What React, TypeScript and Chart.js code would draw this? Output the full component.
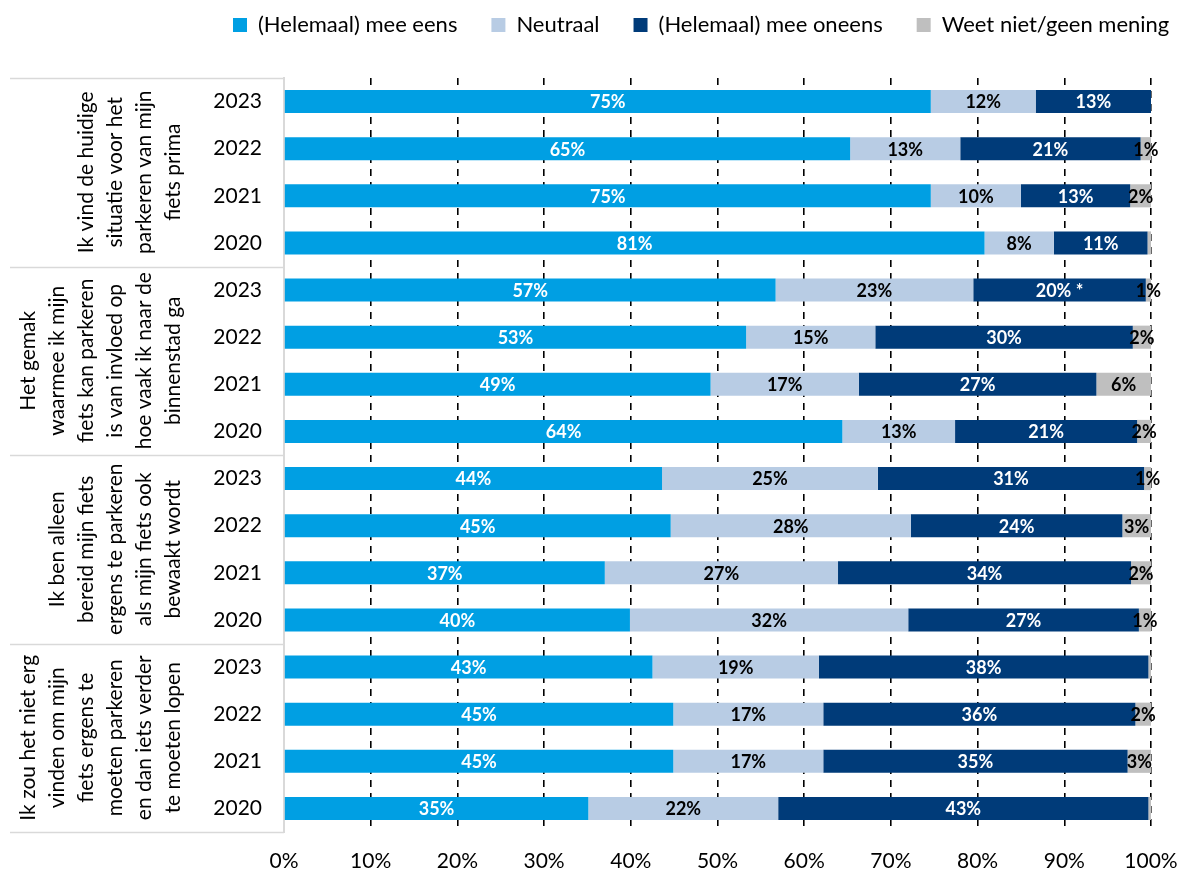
import React, { useEffect, useRef } from "react";
import { Chart, registerables } from "chart.js";

Chart.register(...registerables);

const years = [
  "2023", "2022", "2021", "2020",
  "2023", "2022", "2021", "2020",
  "2023", "2022", "2021", "2020",
  "2023", "2022", "2021", "2020",
];

const groupLabels = [
  ["Ik vind de huidige", "situatie voor het", "parkeren van mijn", "fiets prima"],
  ["Het gemak", "waarmee ik mijn", "fiets kan parkeren", "is van invloed op", "hoe vaak ik naar de", "binnenstad ga"],
  ["Ik ben alleen", "bereid mijn fiets", "ergens te parkeren", "als mijn fiets ook", "bewaakt wordt"],
  ["Ik zou het niet erg", "vinden om mijn", "fiets ergens te", "moeten parkeren", "en dan iets verder", "te moeten lopen"],
];

const seriesNames = ["(Helemaal) mee eens", "Neutraal", "(Helemaal) mee oneens", "Weet niet/geen mening"];

const meeEens = [74.6, 65.3, 74.6, 80.8, 56.7, 53.3, 49.2, 64.4, 43.6, 44.6, 37.0, 39.9, 42.5, 44.9, 44.9, 35.1];
const neutraal = [12.1, 12.7, 10.4, 8.0, 22.8, 14.9, 17.1, 13.0, 24.9, 27.7, 26.9, 32.1, 19.2, 17.3, 17.3, 21.9];
const meeOneens = [13.3, 20.8, 12.6, 10.8, 19.9, 29.7, 27.4, 21.0, 30.7, 24.4, 33.8, 26.6, 38.0, 36.0, 35.1, 42.7];
const weetNiet = [0.0, 1.2, 2.4, 0.4, 0.6, 2.1, 6.3, 1.6, 0.8, 3.3, 2.3, 1.4, 0.3, 1.8, 2.7, 0.3];
const oneensNote = ["", "", "", "", " *", "", "", "", "", "", "", "", "", "", "", ""];

const seriesColors = ["#009FE3", "#B8CCE4", "#003B79", "#BFBFBF"];
const labelColors = ["#FFFFFF", "#000000", "#FFFFFF", "#000000"];

const FONT = "Lato";

const legendPlacer = {
  id: "legendPlacer",
  afterLayout(chart: any) {
    const lg = chart.legend;
    if (!lg) return;
    const p = lg.options.labels.padding;
    const fs = lg.options.labels.font.size;
    const dx = 233 - (lg.left + p);
    lg.left += dx;
    lg.right += dx;
    const dy = 25 - (lg.top + p + fs / 2);
    lg.top += dy;
    lg.bottom += dy;
  },
};

const groupPlugin = {
  id: "groupPlugin",
  afterDraw(chart: any) {
    const { ctx, chartArea } = chart;
    const gh = (chartArea.bottom - chartArea.top) / groupLabels.length;
    ctx.save();
    ctx.strokeStyle = "#D9D9D9";
    ctx.lineWidth = 1.5;
    for (let k = 0; k <= groupLabels.length; k++) {
      const y = Math.round(chartArea.top + k * gh) + 0.5;
      ctx.beginPath();
      ctx.moveTo(10, y);
      ctx.lineTo(chartArea.left, y);
      ctx.stroke();
    }
    ctx.fillStyle = "#000";
    ctx.font = `21px ${FONT}`;
    ctx.textAlign = "center";
    ctx.textBaseline = "middle";
    groupLabels.forEach((lines, k) => {
      const cy = chartArea.top + (k + 0.5) * gh;
      const n = lines.length;
      lines.forEach((line, i) => {
        const cx = 173 - (n - 1 - i) * 29;
        ctx.save();
        ctx.translate(cx, cy);
        ctx.rotate(-Math.PI / 2);
        ctx.fillText(line, 0, 0);
        ctx.restore();
      });
    });
    ctx.restore();
  },
};

const barLabels = {
  id: "barLabels",
  afterDatasetsDraw(chart: any) {
    const { ctx } = chart;
    ctx.save();
    ctx.font = `bold 18px ${FONT}`;
    ctx.textAlign = "center";
    ctx.textBaseline = "middle";
    chart.data.datasets.forEach((ds: any, i: number) => {
      const meta = chart.getDatasetMeta(i);
      meta.data.forEach((bar: any, j: number) => {
        const v = ds.data[j];
        const r = Math.round(v);
        if (r < 1) return;
        const { x, y, base } = bar.getProps(["x", "y", "base"], true);
        let txt = r + "%";
        if (i === 2) txt += oneensNote[j];
        ctx.fillStyle = labelColors[i];
        ctx.fillText(txt, (x + base) / 2, y + 1);
      });
    });
    ctx.restore();
  },
};

export default function App() {
  const ref = useRef<HTMLCanvasElement>(null);
  useEffect(() => {
    if (!ref.current) return;
    const seriesData = [meeEens, neutraal, meeOneens, weetNiet];
    const chart = new Chart(ref.current, {
      type: "bar",
      data: {
        labels: years,
        datasets: seriesNames.map((name, i) => ({
          label: name,
          data: seriesData[i],
          backgroundColor: seriesColors[i],
          borderWidth: 0,
          barPercentage: 0.49,
          categoryPercentage: 1,
        })),
      },
      options: {
        indexAxis: "y",
        responsive: false,
        animation: false,
        devicePixelRatio: 1,
        layout: { padding: { top: 12, right: 33, left: 0, bottom: 0 } },
        plugins: {
          legend: {
            position: "top",
            align: "start",
            labels: {
              boxWidth: 14,
              boxHeight: 14,
              padding: 34,
              color: "#000",
              font: { family: FONT, size: 22 },
            },
          },
          tooltip: { enabled: false },
        },
        scales: {
          x: {
            stacked: true,
            min: 0,
            max: 100,
            ticks: {
              stepSize: 10,
              color: "#000",
              padding: 17,
              font: { family: FONT, size: 21 },
              callback: (v: any) => v + "%",
            },
            grid: {
              drawTicks: false,
              color: (c: any) => (c.index === 0 ? "rgba(0,0,0,0)" : "#000"),
              lineWidth: 1.6,
            },
            border: { display: false, dash: [7, 6] },
            afterFit: (s: any) => {
              s.height = 42;
              s.paddingRight = 0;
              s.paddingLeft = 0;
            },
          },
          y: {
            stacked: true,
            ticks: {
              color: "#000",
              padding: 22,
              font: { family: FONT, size: 21 },
            },
            grid: { display: false, drawTicks: false },
            border: { display: true, color: "#D9D9D9", width: 2 },
            afterFit: (s: any) => {
              s.width = 284;
            },
          },
        },
      },
      plugins: [legendPlacer, groupPlugin, barLabels],
    } as any);
    return () => chart.destroy();
  }, []);
  return (
    <div style={{ position: "absolute", left: 0, top: 0, width: 1184, height: 874, background: "#fff" }}>
      <canvas ref={ref} width={1184} height={874} />
    </div>
  );
}
